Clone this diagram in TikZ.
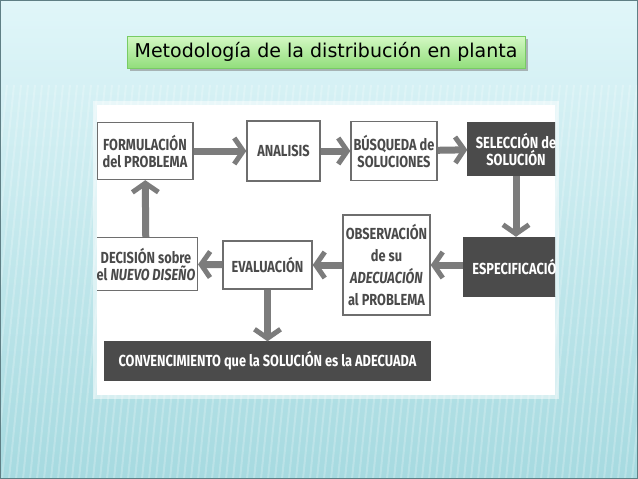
\documentclass[tikz,border=0pt]{standalone}
\usepackage{fontspec}
\newfontfamily\titlefont{DejaVu Sans}
\newfontfamily\boxfont[FakeStretch=0.8]{Fira Sans}
\usetikzlibrary{arrows.meta}
\definecolor{slidetop}{HTML}{E0F6F9}
\definecolor{slidebot}{HTML}{A6DAE0}
\definecolor{slideframe}{HTML}{5F7F85}
\definecolor{titletop}{HTML}{D4F8C4}
\definecolor{titlebot}{HTML}{92DE7C}
\definecolor{titleline}{HTML}{78CC64}
\definecolor{boxline}{HTML}{6E6E6E}
\definecolor{boxtext}{HTML}{4A4A4A}
\definecolor{darkfill}{HTML}{4B4B4B}
\definecolor{arrowgray}{HTML}{7C7C7C}
\tikzset{box/.style={draw=boxline, line width=1.4pt, fill=white, align=center,
         font=\boxfont\bfseries\fontsize{16}{17}\selectfont, text=boxtext, inner sep=2pt},
         darkbox/.style={box, draw=darkfill, fill=darkfill, text=white},
         flow/.style={draw=arrowgray, line width=7pt,
         -{Straight Barb[length=9pt,width=26pt,line width=5pt]}}}

\begin{document}
\begin{tikzpicture}[x=1pt,y=-1pt]
\useasboundingbox (0,0) rectangle (638,479);
\shade[top color=slidetop, bottom color=slidebot] (0,0) rectangle (638,479);
\foreach \i in {0,7,...,700}
  \draw[white, opacity=0.22, line width=2pt] (\i,85) -- (\i-40,479);
\draw[slideframe, line width=1.2pt] (0,0) rectangle (638,479);

% title
\fill[gray, opacity=.55] (130,39) rectangle (528,71);
\node[draw=titleline, line width=1pt, top color=titletop, bottom color=titlebot,
      minimum width=398, minimum height=32, inner sep=0pt,
      font=\titlefont\fontsize{19}{21}\selectfont] (title) at (326,52)
      {Metodología de la distribución en planta};

% white panel
\fill[white, opacity=.5] (93,101) rectangle (559,399);
\fill[white] (97,105) rectangle (555,395);

\begin{scope}
\clip (97,105) rectangle (555,395);
\node[box, minimum width=96, minimum height=57] (form) at (145,151) {FORMULACIÓN\\del PROBLEMA};
\node[box, minimum width=73, minimum height=60] (anal) at (283.5,151) {ANALISIS};
\node[box, minimum width=86, minimum height=59] (busq) at (394,151) {BÚSQUEDA de\\SOLUCIONES};
\node[darkbox, minimum width=96, minimum height=53] (selec) at (516,149) {SELECCIÓN de\\SOLUCIÓN};

\node[darkbox, minimum width=110, minimum height=59, anchor=west] (espec) at (463,267) {ESPECIFICACIÓN};
\node[box, minimum width=87, minimum height=100,
      font=\boxfont\bfseries\fontsize{16}{22}\selectfont] (obs) at (386.5,265)
      {OBSERVACIÓN\\de su\\\textit{ADECUACIÓN}\\al PROBLEMA};
\node[box, minimum width=89, minimum height=48] (eval) at (267.5,265) {EVALUACIÓN};
\node[box, minimum width=102, minimum height=53] (deci) at (146,264) {DECISIÓN sobre\\el \textit{NUEVO DISEÑO}};

\node[darkbox, minimum width=325, minimum height=38] (conv) at (267.5,361)
      {CONVENCIMIENTO que la SOLUCIÓN es la ADECUADA};

\draw[flow] (form) -- (anal);
\draw[flow] (anal) -- (busq);
\draw[flow] (busq) -- (selec);
\draw[flow] (selec.south) -- (selec.south |- espec.north);
\draw[flow] (espec.west |- obs.east) -- (obs.east);
\draw[flow] (obs) -- (eval);
\draw[flow] (eval) -- (deci);
\draw[flow] (deci) -- (form);
\draw[flow] (eval) -- (conv);
\end{scope}

\end{tikzpicture}
\end{document}
